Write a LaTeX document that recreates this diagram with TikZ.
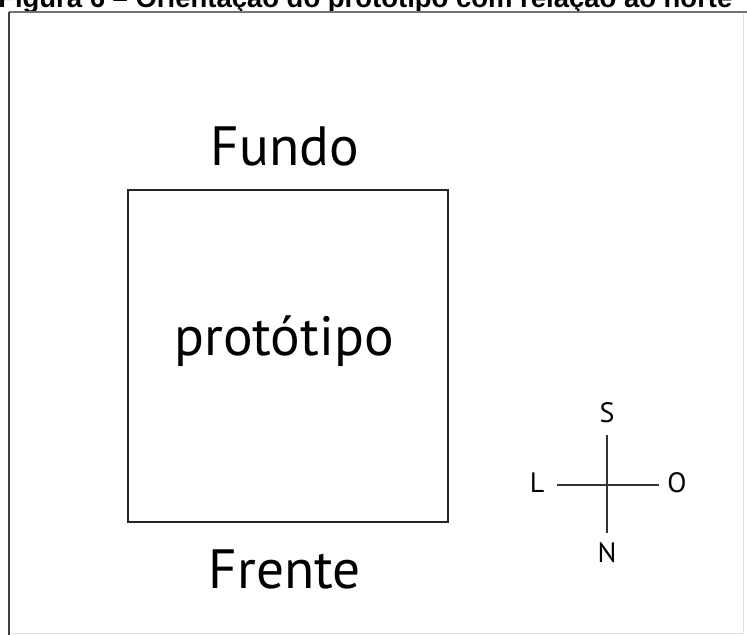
\documentclass[tikz,border=0pt]{standalone}
\usepackage{fontspec}
\setmainfont{PT Sans}
\newfontfamily\titlefont{Liberation Sans}
\begin{document}
\begin{tikzpicture}[x=0.75pt,y=-0.75pt,
  label39/.style={font=\fontsize{41.5}{46}\selectfont, inner sep=0pt, anchor=base},
  compasslbl/.style={font=\fontsize{21}{25}\selectfont, inner sep=0pt, anchor=base},
  boxline/.style={line width=1.5pt, draw=black!85},
  compassline/.style={line width=1.1pt, draw=black!80}]
\useasboundingbox (0,0) rectangle (747,635);
\clip (0,0) rectangle (747,635);
\fill[white] (0,0) rectangle (747,635);
% title (cut at the top, as in the reference)
\node[anchor=base west, inner sep=0pt, font=\titlefont\bfseries\fontsize{20.6}{24}\selectfont] (title) at (-2,8) {Figura 6 – Orientação do protótipo com relação ao norte};
% frame
\draw[line width=1.6pt, draw=black!55] (9,12) -- (747,12);
\draw[line width=1.8pt, draw=black!75] (9,12) -- (9,640);
\draw[line width=0.6pt, draw=black!12] (743,14) -- (743,633) -- (11,633);
% square
\node[boxline, minimum width=320*0.75pt, minimum height=332*0.75pt, inner sep=0pt] (box) at (288,356) {};
\node[label39] (fundo) at (285,166) {Fundo};
\node[label39] (prot) at (284,355) {protótipo};
\node[label39] (frente) at (285,588) {Frente};
% compass
\coordinate (ct) at (607,435);
\coordinate (cb) at (607,533);
\coordinate (cl) at (557,485);
\coordinate (cr) at (659,485);
\draw[compassline] (ct) -- (cb);
\draw[compassline] (cl) -- (cr);
\node[compasslbl] (S) at (607,422) {S};
\node[compasslbl] (L) at (537,492) {L};
\node[compasslbl] (O) at (677,492) {O};
\node[compasslbl] (N) at (607,562) {N};
\end{tikzpicture}
\end{document}
